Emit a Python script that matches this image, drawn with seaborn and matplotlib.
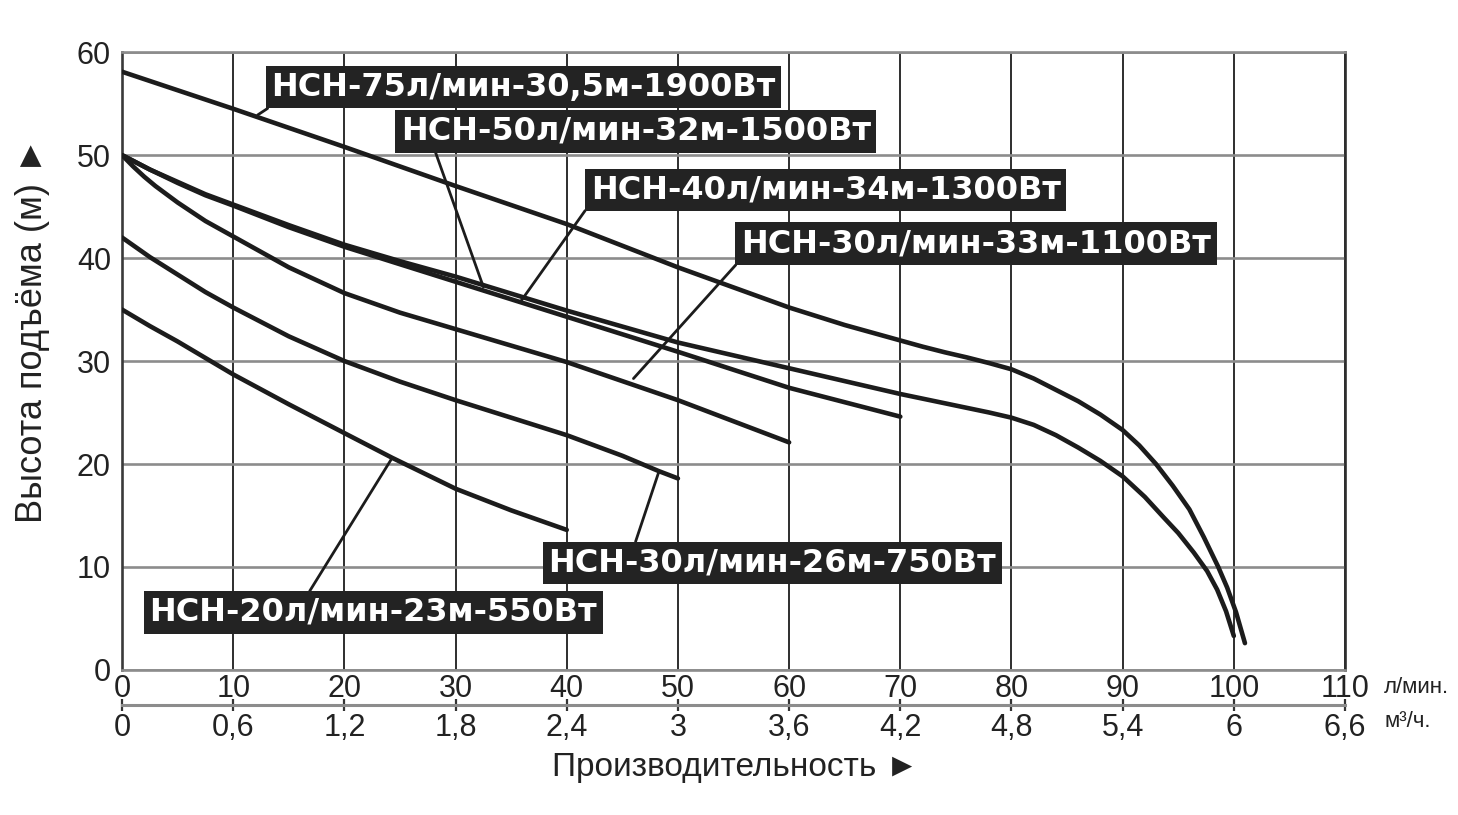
import matplotlib
matplotlib.use("Agg")
import matplotlib.pyplot as plt
import numpy as np
import pandas as pd
import seaborn as sns

# Pump head curves: flow in l/min, head in m
models = ["НСН-75л/мин-30,5м-1900Вт", "НСН-50л/мин-32м-1500Вт", "НСН-40л/мин-34м-1300Вт",
          "НСН-30л/мин-33м-1100Вт", "НСН-30л/мин-26м-750Вт", "НСН-20л/мин-23м-550Вт"]

flow_75 = [0, 10, 20, 30, 40, 50, 60, 65, 70, 72, 74, 76, 78, 80, 82, 84, 86, 88, 90,
           91.5, 93, 94.5, 96, 97.3, 98.6, 99.4, 100.2, 101]
head_75 = [58.1, 54.5, 50.8, 47.0, 43.3, 39.1, 35.2, 33.5, 32.0, 31.4, 30.85, 30.35, 29.8, 29.2, 28.3, 27.2, 26.1, 24.8, 23.3,
           21.8, 20.0, 17.9, 15.6, 12.9, 10.0, 8.0, 5.6, 2.6]

flow_50 = [0, 2.5, 5, 7.5, 10, 15, 20, 25, 30, 40, 50, 60, 70, 74, 78, 80, 82, 84, 86, 88, 90,
           92, 93.7, 95, 96.4, 97.6, 98.5, 99.3, 100]
head_50 = [50, 48.6, 47.4, 46.2, 45.2, 43.2, 41.3, 39.7, 38.2, 34.9, 31.8, 29.3, 26.8, 25.9, 25.0, 24.5, 23.8, 22.8, 21.6, 20.3, 18.8,
           16.8, 14.8, 13.3, 11.4, 9.6, 7.8, 5.7, 3.3]

flow_40 = [0, 2.5, 5, 7.5, 10, 15, 20, 25, 30, 40, 50, 60, 70]
head_40 = [50, 48.6, 47.3, 46.1, 45.1, 43.0, 41.1, 39.4, 37.7, 34.3, 30.9, 27.4, 24.6]

flow_1100 = [0, 1, 2, 3, 5, 7.5, 10, 15, 20, 25, 30, 40, 50, 60]
head_1100 = [50, 48.9, 47.9, 47.0, 45.4, 43.6, 42.1, 39.1, 36.6, 34.7, 33.1, 29.9, 26.2, 22.1]

flow_750 = [0, 2.5, 5, 7.5, 10, 15, 20, 25, 30, 35, 40, 45, 48.3, 50]
head_750 = [42.0, 40.1, 38.4, 36.7, 35.2, 32.4, 30.0, 28.0, 26.2, 24.5, 22.8, 20.8, 19.3, 18.6]

flow_550 = [0, 2.5, 5, 7.5, 10, 15, 20, 24.3, 30, 35, 40]
head_550 = [35.0, 33.4, 31.9, 30.3, 28.7, 25.8, 23.0, 20.6, 17.6, 15.5, 13.6]

flows = [flow_75, flow_50, flow_40, flow_1100, flow_750, flow_550]
heads = [head_75, head_50, head_40, head_1100, head_750, head_550]

# tick labels
lpm_ticks = list(range(0, 111, 10))
m3h_ticks = [0, 0.6, 1.2, 1.8, 2.4, 3, 3.6, 4.2, 4.8, 5.4, 6, 6.6]
m3h_labels = ["0", "0,6", "1,2", "1,8", "2,4", "3", "3,6", "4,2", "4,8", "5,4", "6", "6,6"]
head_ticks = list(range(0, 61, 10))

# label boxes: centre of the text, point on the curve, where the leader leaves the box
label_pos = [(36.1, 56.6), (46.2, 52.3), (63.3, 46.6), (76.8, 41.4), (58.5, 10.4), (22.6, 5.6)]
curve_pt = [(12.2, 53.9), (32.5, 37.2), (35.8, 35.7), (46.0, 28.3), (48.3, 19.3), (24.3, 20.6)]
leader_rel = [(0.01, 0.0), (0.07, 0.0), (0.0, 0.1), (0.0, 0.0), (0.19, 1.0), (0.35, 1.0)]

df = pd.concat([pd.DataFrame({"flow": f, "head": h, "model": m})
                for f, h, m in zip(flows, heads, models)], ignore_index=True)

sns.set_theme(style="white")
plt.rcParams["font.family"] = ["Liberation Sans", "DejaVu Sans"]

fig = plt.figure(figsize=(14.58, 8.15), dpi=100)
ax = fig.add_axes([0.0837, 0.178, 0.8388, 0.758])

sns.lineplot(data=df, x="flow", y="head", hue="model", palette=["#1c1c1c"] * 6,
             estimator=None, sort=False, legend=False, lw=3.3, ax=ax, zorder=3)
for line in ax.get_lines():
    line.set_solid_joinstyle("round")

ax.set_xlim(0, 110)
ax.set_ylim(0, 60)
ax.set_xticks(lpm_ticks)
ax.set_yticks(head_ticks)
ax.set_xlabel("")
ax.set_ylabel("")
ax.tick_params(axis="x", length=0, pad=3, labelsize=22, colors="#222")
ax.tick_params(axis="y", length=0, pad=8, labelsize=22, colors="#222")

ax.set_axisbelow(True)
ax.grid(axis="x", color="#2e2e2e", lw=1.4)
ax.grid(axis="y", color="#8c8c8c", lw=1.9)
for side, col in [("left", "#3a3a3a"), ("right", "#2e2e2e"), ("top", "#8c8c8c"), ("bottom", "#8c8c8c")]:
    ax.spines[side].set_color(col)
    ax.spines[side].set_linewidth(1.9)

# second flow scale in m3/h
secax = ax.secondary_xaxis(-0.057, functions=(lambda q: q * 0.06, lambda q: q / 0.06))
secax.set_xticks(m3h_ticks, m3h_labels)
secax.tick_params(axis="x", direction="inout", length=9, width=1.6, color="#333",
                  pad=1, labelsize=22, labelcolor="#222")
secax.spines["bottom"].set_color("#8c8c8c")
secax.spines["bottom"].set_linewidth(2.2)

ax.text(1.032, -0.029, "л/мин.", transform=ax.transAxes, fontsize=16, color="#222",
        ha="left", va="center")
ax.text(1.032, -0.084, "м³/ч.", transform=ax.transAxes, fontsize=16, color="#222",
        ha="left", va="center")

fig.text(0.504, 0.058, "Производительность ►", fontsize=24, color="#222", ha="center", va="center")
fig.text(0.022, 0.595, "Высота подъёма (м) ►", fontsize=26, color="#222", ha="center",
         va="center", rotation=90)

for name, pos, pt, rel in zip(models, label_pos, curve_pt, leader_rel):
    ax.annotate(name, xy=pt, xytext=pos, ha="center", va="center",
                fontsize=23, fontweight="bold", family="DejaVu Sans", color="white",
                bbox=dict(boxstyle="square,pad=0.18", fc="#232323", ec="none"),
                arrowprops=dict(arrowstyle="-", color="#1c1c1c", lw=2.0, relpos=rel,
                                shrinkA=0, shrinkB=0),
                zorder=5)

fig.savefig("out.png", dpi=100, facecolor="white")
